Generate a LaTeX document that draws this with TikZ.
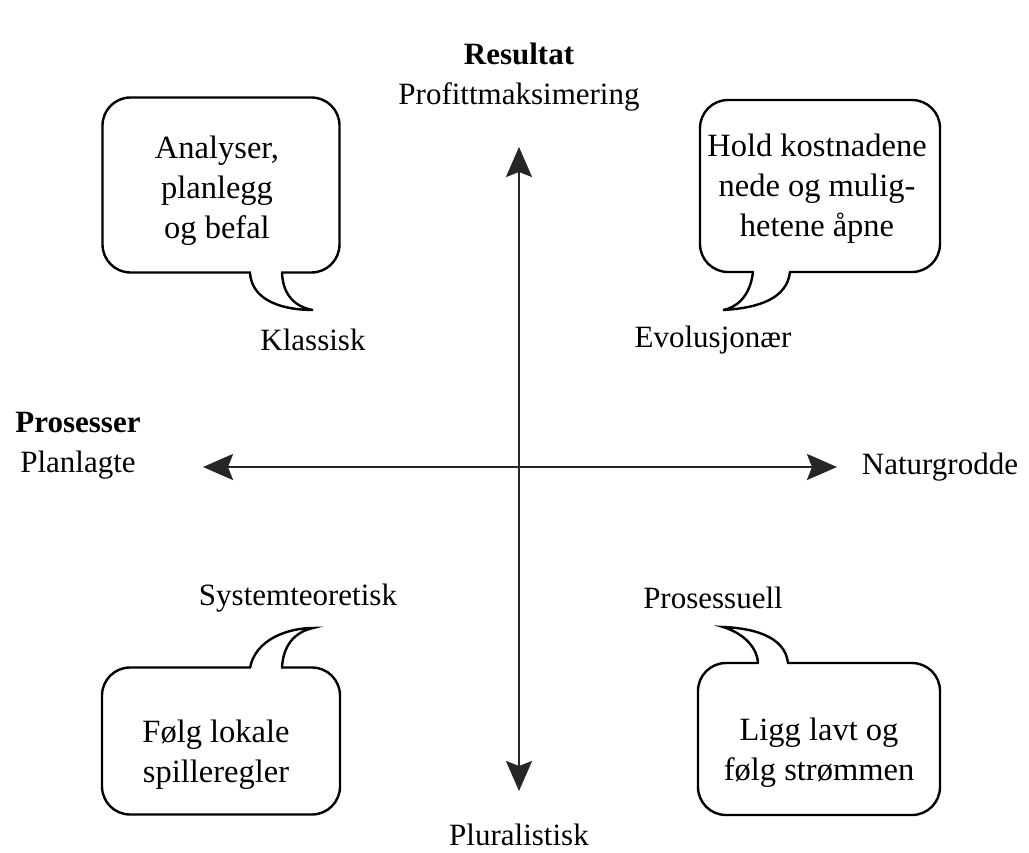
\documentclass[tikz,border=0pt]{standalone}
\usepackage{fontspec}
\setmainfont{Liberation Serif}
\usetikzlibrary{arrows.meta}

\tikzset{
    bubble/.style={draw, line width=2.4pt, rounded corners=28pt, inner sep=0pt},
    say/.style={align=center, inner sep=0pt, font=\fontsize{32.5}{40}\selectfont},
    lbl/.style={font=\fontsize{31}{40}\selectfont, inner sep=0pt},
    axis/.style={line width=2.6pt, color=black!85,
        {Stealth[length=30pt,width=26pt,inset=5pt]}-{Stealth[length=30pt,width=26pt,inset=5pt]}},
    tail/.style={line width=2.4pt}
}

\begin{document}
\begin{tikzpicture}[x=1pt, y=-1pt]
        \useasboundingbox (0, 0) rectangle (1029, 853);
        % axes
        \coordinate (top) at (519, 147);
        \coordinate (bottom) at (519, 791);
        \coordinate (left) at (203, 467);
        \coordinate (right) at (837, 467);
        \draw[axis] (bottom) -- (top);
        \draw[axis] (left) -- (right);
        % axis labels
        \node[lbl, align=center] (result) at (519, 77) {\textbf{Resultat}\\Profittmaksimering};
        \node[lbl, align=center] (process) at (78, 446) {\textbf{Prosesser}\\Planlagte};
        \node[lbl] (natural) at (940, 467) {Naturgrodde};
        \node[lbl] (plural) at (519, 835) {Pluralistisk};
        % quadrant labels
        \node[lbl] (classic) at (313, 340) {Klassisk};
        \node[lbl] (evolution) at (713, 340) {Evolusjonær};
        \node[lbl] (system) at (298, 598) {Systemteoretisk};
        \node[lbl] (processual) at (713, 598) {Prosessuell};
        % speech bubbles
        \node[bubble, minimum width=237pt, minimum height=175pt] (tl) at (221, 185) {};
        \node[bubble, minimum width=240pt, minimum height=172pt] (tr) at (820, 186) {};
        \node[bubble, minimum width=238pt, minimum height=147pt] (bl) at (221, 741) {};
        \node[bubble, minimum width=242pt, minimum height=152pt] (br) at (819, 739) {};
        \node[say] (tltext) at (217, 191) {Analyser,\\planlegg\\og befal};
        \node[say] (trtext) at (817, 189) {Hold kostnadene\\nede og mulig-\\hetene åpne};
        \node[say] (bltext) at (216, 755) {Følg lokale\\spilleregler};
        \node[say] (brtext) at (819, 753) {Ligg lavt og\\følg strømmen};
        % tails
        \fill[white] (251, 269) rectangle (281, 276);
        \draw[tail] (250, 273) .. controls (252, 302) and (285, 310) .. (313, 310)
            .. controls (295, 307) and (283, 295) .. (282, 273);
        \fill[white] (754, 268) rectangle (789, 275);
        \draw[tail] (753, 272) .. controls (750, 298) and (735, 308) .. (723, 310)
            .. controls (760, 308) and (787, 298) .. (790, 272);
        \fill[white] (251, 664) rectangle (281, 671);
        \draw[tail] (250, 668) .. controls (255, 640) and (287, 628) .. (313, 628)
            .. controls (295, 632) and (283, 645) .. (282, 668);
        \fill[white] (759, 659) rectangle (787, 666);
        \draw[tail] (758, 663) .. controls (757, 645) and (740, 632) .. (723, 627)
            .. controls (750, 628) and (785, 635) .. (788, 663);
    \end{tikzpicture}
\end{document}
